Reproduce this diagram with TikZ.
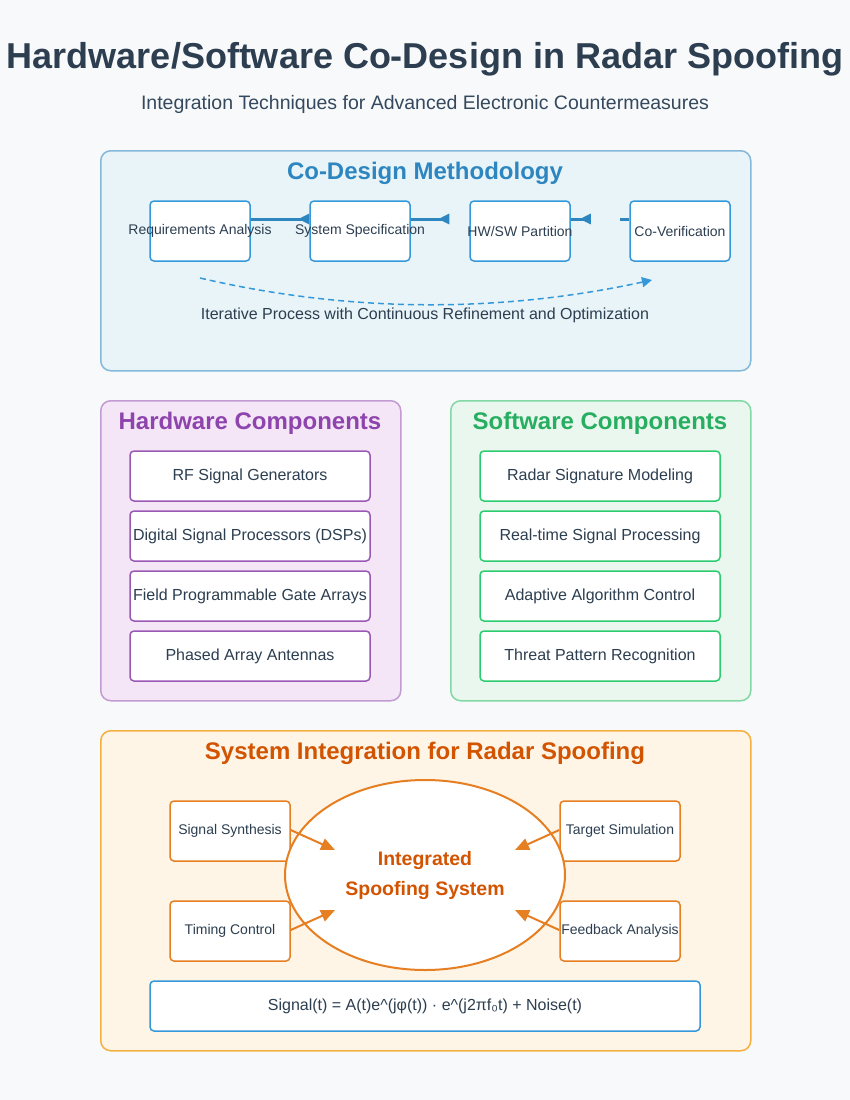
\documentclass[tikz,border=0pt]{standalone}
\usepackage{fontspec}
\setmainfont{Liberation Sans}
\usetikzlibrary{shapes.geometric,arrows.meta,positioning}

\definecolor{pagebg}{HTML}{F8F9FA}
\definecolor{ink}{HTML}{2C3E50}
\definecolor{subink}{HTML}{34495E}
\definecolor{methfill}{HTML}{E8F4F8}
\definecolor{methline}{HTML}{85B9DA}
\definecolor{methtitle}{HTML}{2E86C1}
\definecolor{blueline}{HTML}{3498DB}
\definecolor{hwfill}{HTML}{F4E6F7}
\definecolor{hwline}{HTML}{C39BD3}
\definecolor{hwtitle}{HTML}{8E44AD}
\definecolor{hwitem}{HTML}{9B59B6}
\definecolor{swfill}{HTML}{E9F7EF}
\definecolor{swline}{HTML}{82D9A5}
\definecolor{swtitle}{HTML}{27AE60}
\definecolor{switem}{HTML}{2ECC71}
\definecolor{intfill}{HTML}{FEF5E7}
\definecolor{intline}{HTML}{F5B041}
\definecolor{inttitle}{HTML}{D35400}
\definecolor{orange}{HTML}{E67E22}

\tikzset{
  panel/.style={draw, line width=1.5pt, rounded corners=10pt, anchor=north west, inner sep=0pt},
  paneltitle/.style={font=\fontsize{24}{28}\selectfont\bfseries},
  stage/.style={draw=blueline, fill=white, line width=1.5pt, rounded corners=4pt,
    minimum width=100pt, minimum height=60pt, inner sep=0pt,
    font=\fontsize{14}{16}\selectfont, text=ink},
  item/.style={fill=white, line width=1.5pt, rounded corners=4pt,
    minimum width=240pt, minimum height=50pt, inner sep=0pt,
    font=\fontsize{16}{19}\selectfont, text=ink},
  part/.style={draw=orange, fill=white, line width=1.5pt, rounded corners=4pt,
    minimum width=120pt, minimum height=60pt, inner sep=0pt,
    font=\fontsize{14}{16}\selectfont, text=ink},
  flow/.style={draw=methtitle, line width=3pt, -{Triangle[reversed,length=11pt,width=10pt]}},
  feed/.style={draw=orange, line width=2pt, -{Triangle[length=14pt,width=12pt]}},
}

\begin{document}
\begin{tikzpicture}[x=1pt, y=-1pt, node distance=160pt, on grid]
  \fill[pagebg] (0,0) rectangle (850,1100);
  \useasboundingbox (0,0) rectangle (850,1100);

  % heading
  \node[text=ink, font=\fontsize{36}{42}\selectfont\bfseries] (title) at (425,59) {Hardware/Software Co-Design in Radar Spoofing};
  \node[text=subink, font=\fontsize{19.5}{23}\selectfont] (subtitle) at (425,104) {Integration Techniques for Advanced Electronic Countermeasures};

  % co-design methodology
  \node[panel, draw=methline, fill=methfill, minimum width=650pt, minimum height=220pt] (meth) at (100,150) {};
  \node[paneltitle, text=methtitle] (methT) at (425,173) {Co-Design Methodology};
  \node[stage] (req)    at (200,231) {\makebox[0pt]{Requirements Analysis}};
  \node[stage] (spec)   [right=of req]  {\makebox[0pt]{System Specification}};
  \node[stage] (hwsw)   [right=of spec] {\makebox[0pt]{HW/SW Partition}};
  \node[stage] (verif)  [right=of hwsw] {\makebox[0pt]{Co-Verification}};
  \coordinate (gapA) at ([shift={(20pt,12pt)}]hwsw.east);
  \coordinate (gapB) at ([shift={(-9pt,12pt)}]verif.west);

  \path[flow] ([yshift=12pt]req.east) -- ([yshift=12pt]spec.west);
  \path[flow, shorten >=20pt] ([yshift=12pt]spec.east) -- ([yshift=12pt]hwsw.west);
  \path[flow] ([yshift=12pt]hwsw.east) -- (gapA);
  \draw[methtitle, line width=3pt] ([yshift=12pt]verif.west) -- (gapB);

  \coordinate (loopA) at (200,278);
  \coordinate (loopB) at (652,280);
  \draw[blueline, line width=1.5pt, dash pattern=on 6pt off 4pt, -{Triangle[length=10pt,width=10pt]}]
    (loopA) .. controls (350,313) and (500,313) .. (loopB);
  \node[text=ink, font=\fontsize{16}{19}\selectfont] (loopT) at (425,315) {Iterative Process with Continuous Refinement and Optimization};

  % hardware components
  \node[panel, draw=hwline, fill=hwfill, minimum width=300pt, minimum height=300pt] (hw) at (100,400) {};
  \node[paneltitle, text=hwtitle] (hwT) at (250,423) {Hardware Components};
  \node[item, draw=hwitem] (hw1) at (250,476) {RF Signal Generators};
  \node[item, draw=hwitem] (hw2) [below=60pt of hw1] {Digital Signal Processors (DSPs)};
  \node[item, draw=hwitem] (hw3) [below=60pt of hw2] {Field Programmable Gate Arrays};
  \node[item, draw=hwitem] (hw4) [below=60pt of hw3] {Phased Array Antennas};

  % software components
  \node[panel, draw=swline, fill=swfill, minimum width=300pt, minimum height=300pt] (sw) at (450,400) {};
  \node[paneltitle, text=swtitle] (swT) at (600,423) {Software Components};
  \node[item, draw=switem] (sw1) at (600,476) {Radar Signature Modeling};
  \node[item, draw=switem] (sw2) [below=60pt of sw1] {Real-time Signal Processing};
  \node[item, draw=switem] (sw3) [below=60pt of sw2] {Adaptive Algorithm Control};
  \node[item, draw=switem] (sw4) [below=60pt of sw3] {Threat Pattern Recognition};

  % system integration
  \node[panel, draw=intline, fill=intfill, minimum width=650pt, minimum height=320pt] (integ) at (100,730) {};
  \node[paneltitle, text=inttitle] (integT) at (425,753) {System Integration for Radar Spoofing};
  \node[part] (synth)  at (230,831) {Signal Synthesis};
  \node[part] (timing) at (230,931) {Timing Control};
  \node[part] (target) at (620,831) {Target Simulation};
  \node[part] (fback)  at (620,931) {\makebox[0pt]{Feedback Analysis}};
  \node[ellipse, draw=orange, fill=white, line width=2pt, minimum width=280pt, minimum height=190pt,
        align=center, text=inttitle, font=\fontsize{19.5}{30}\selectfont\bfseries] (core) at (425,875)
        {Integrated\\Spoofing System};
  \coordinate (inA) at (335,850);
  \coordinate (inB) at (335,910);
  \coordinate (inC) at (515,850);
  \coordinate (inD) at (515,910);

  \path[feed] ([yshift=1pt]synth.east)  -- (inA);
  \path[feed] ([yshift=1pt]timing.east) -- (inB);
  \path[feed] ([yshift=1pt]target.west) -- (inC);
  \path[feed] ([yshift=1pt]fback.west)  -- (inD);

  \node[draw=blueline, fill=white, line width=1.5pt, rounded corners=4pt, minimum width=550pt, minimum height=50pt,
        inner sep=0pt, text=ink, font=\fontsize{16}{19}\selectfont] (formula) at (425,1006)
        {Signal(t) = A(t)e\textasciicircum(jφ(t)) · e\textasciicircum(j2πf₀t) + Noise(t)};
\end{tikzpicture}
\end{document}
